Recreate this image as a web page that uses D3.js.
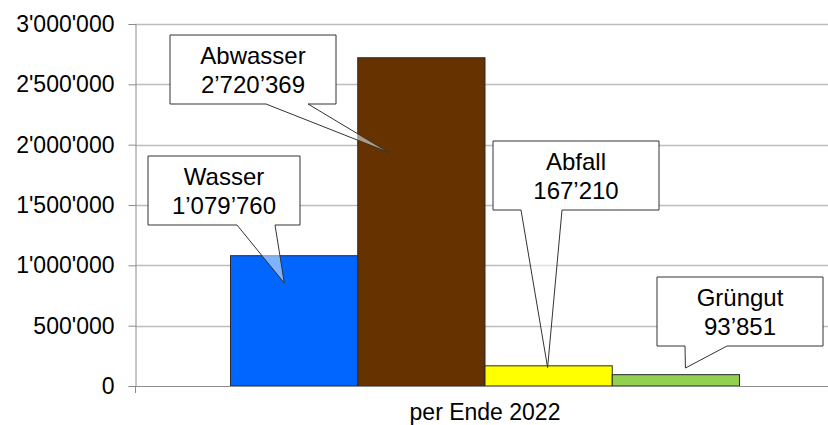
<!DOCTYPE html>
<html>
<head>
<meta charset="utf-8">
<script src="https://cdn.jsdelivr.net/npm/d3@7"></script>
<style>
  body { margin: 0; background: #fff; }
  text { font-family: "Liberation Sans", Arial, sans-serif; fill: #000; }
</style>
</head>
<body>
<svg width="828" height="425"></svg>
<script>
// data
const categories = ['per Ende 2022'];
const series = ['Wasser', 'Abwasser', 'Abfall', 'Grüngut'];
const values = [1079760, 2720369, 167210, 93851];
const valueLabels = ['1’079’760', '2’720’369', '167’210', '93’851'];
const yTicks = [0, 500000, 1000000, 1500000, 2000000, 2500000, 3000000];

const colors = ['#0066ff', '#663300', '#ffff00', '#92d050'];

// callout boxes: box corner, pointer base (relative to box) and tip (fraction of bar x, value y)
const callouts = [
  { box: [148, 156, 152, 69], base: [89, 127], tip: [-0.077, 853000] },
  { box: [170, 35, 166, 69], base: [96, 138], tip: [-0.255, 1935000] },
  { box: [493, 141, 166, 69], base: [28, 69], tip: [-0.008, 153000] },
  { box: [657, 277, 166, 69], base: [28, 70], tip: [0.075, 149000] }
];

const svg = d3.select('svg');
const plotL = 135, plotR = 835, plotT = 24, plotB = 386;

const y = d3.scaleLinear().domain([0, 3000000]).range([plotB, plotT]);
const x0 = d3.scaleBand().domain(categories).range([plotL, plotR]).paddingInner(0).paddingOuter(0.1876);
const x1 = d3.scaleBand().domain(series).range([0, x0.bandwidth()]);

const fmt = v => d3.format(',')(v).replace(/,/g, "'");

// gridlines
svg.append('g').selectAll('line').data(yTicks.filter(d => d > 0)).join('line')
  .attr('x1', plotL).attr('x2', 828)
  .attr('y1', d => Math.round(y(d)) + 0.5).attr('y2', d => Math.round(y(d)) + 0.5)
  .attr('stroke', '#bdbdbd').attr('stroke-width', 1.6);

// y axis
const yAxis = svg.append('g').attr('transform', `translate(${plotL + 0.5},0)`)
  .call(d3.axisLeft(y).tickValues(yTicks).tickFormat(fmt).tickSize(7).tickPadding(14));
yAxis.select('.domain').attr('stroke', '#8c8c8c');
yAxis.selectAll('.tick line').attr('stroke', '#8c8c8c');
yAxis.selectAll('.tick text').attr('font-size', 23).attr('font-family', '"Liberation Sans", Arial, sans-serif').attr('fill', '#000');

// bars
const bars = svg.append('g');
categories.forEach(c => {
  bars.selectAll('rect').data(values).join('rect')
    .attr('x', (d, i) => x0(c) + x1(series[i]))
    .attr('y', d => y(d))
    .attr('width', x1.bandwidth())
    .attr('height', d => y(0) - y(d))
    .attr('fill', (d, i) => colors[i])
    .attr('stroke', '#2a2a2a').attr('stroke-width', 1);
});

// x axis
svg.append('line').attr('x1', plotL).attr('x2', 828).attr('y1', plotB + 0.5).attr('y2', plotB + 0.5)
  .attr('stroke', '#8c8c8c');
svg.append('line').attr('x1', plotL + 0.5).attr('x2', plotL + 0.5).attr('y1', plotB).attr('y2', plotB + 7)
  .attr('stroke', '#8c8c8c');
svg.selectAll('.xlabel').data(categories).join('text').attr('class', 'xlabel')
  .attr('x', d => x0(d) + x0.bandwidth() / 2).attr('y', 420)
  .attr('text-anchor', 'middle').attr('font-size', 23).text(d => d);

// callouts
const g = svg.append('g');
callouts.forEach((c, i) => {
  const [bx, by, bw, bh] = c.box;
  const bar = x0(categories[0]) + x1(series[i]);
  const tx = bar + x1.bandwidth() * (0.5 + c.tip[0]);
  const ty = y(c.tip[1]);
  const b0 = bx + c.base[0], b1 = bx + c.base[1], bb = by + bh;
  g.append('rect').attr('x', bx).attr('y', by).attr('width', bw).attr('height', bh).attr('fill', '#fff');
  g.append('path').attr('d', `M${b0},${bb}L${tx},${ty}L${b1},${bb}Z`).attr('fill', '#fff').attr('fill-opacity', 0.5);
  g.append('path')
    .attr('d', `M${b0},${bb}H${bx}V${by}H${bx + bw}V${bb}H${b1}L${tx},${ty}Z`)
    .attr('fill', 'none').attr('stroke', '#333').attr('stroke-width', 1);
  g.append('text').attr('x', bx + bw / 2).attr('y', by + 28.5).attr('text-anchor', 'middle')
    .attr('font-size', 24).text(series[i]);
  g.append('text').attr('x', bx + bw / 2).attr('y', by + 57.5).attr('text-anchor', 'middle')
    .attr('font-size', 24).text(valueLabels[i]);
});
</script>
</body>
</html>
